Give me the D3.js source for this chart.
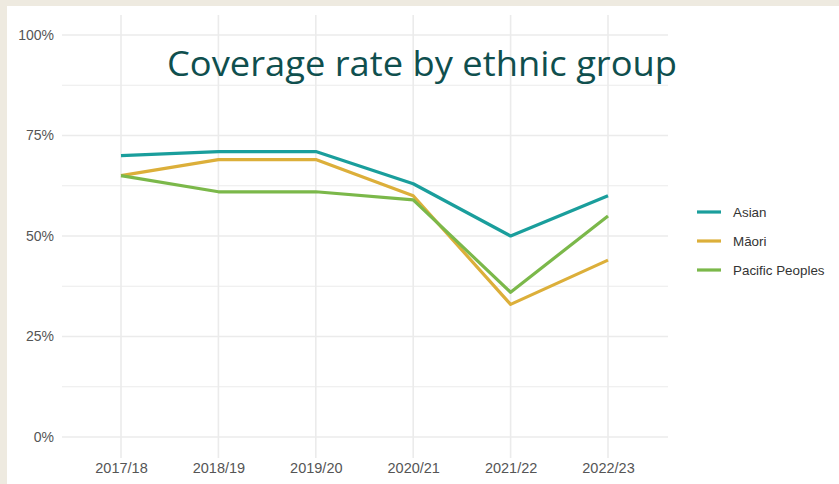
<!DOCTYPE html>
<html>
<head>
<meta charset="utf-8">
<script src="https://cdn.jsdelivr.net/npm/d3@7"></script>
<style>
  html, body { margin: 0; padding: 0; background: #eeeae0; }
  svg { display: block; }
</style>
</head>
<body>
<svg id="chart" width="839" height="484"></svg>
<script>
// Coverage rate by ethnic group, 2017/18 to 2022/23
const years = ["2017/18", "2018/19", "2019/20", "2020/21", "2021/22", "2022/23"];
const groups = ["Asian", "Māori", "Pacific Peoples"];
const asian = [70, 71, 71, 63, 50, 60];
const maori = [65, 69, 69, 60, 33, 44];
const pacific = [65, 61, 61, 59, 36, 55];
const yTicks = [0, 25, 50, 75, 100];
const colors = ["#1a9e9c", "#dcaf3a", "#7bb84a"];

const seriesValues = [asian, maori, pacific];

const svg = d3.select("#chart");

// white panel
svg.append("rect")
  .attr("x", 7).attr("y", 6).attr("width", 832).attr("height", 478)
  .attr("fill", "#ffffff");

const x = d3.scalePoint().domain(years).range([121, 608]);
const y = d3.scaleLinear().domain([0, 100]).range([437, 35]);

const gridColor = "#ebebeb";
const g = svg.append("g");

// minor horizontal grid
const minor = [12.5, 37.5, 62.5, 87.5];
g.selectAll(".minor").data(minor).join("line")
  .attr("x1", 62).attr("x2", 668)
  .attr("y1", d => y(d)).attr("y2", d => y(d))
  .attr("stroke", gridColor).attr("stroke-width", 1);

// major horizontal grid
g.selectAll(".major").data(yTicks).join("line")
  .attr("x1", 62).attr("x2", 668)
  .attr("y1", d => y(d)).attr("y2", d => y(d))
  .attr("stroke", gridColor).attr("stroke-width", 1.6);

// vertical grid
g.selectAll(".vgrid").data(years).join("line")
  .attr("x1", d => x(d)).attr("x2", d => x(d))
  .attr("y1", 15).attr("y2", 458)
  .attr("stroke", gridColor).attr("stroke-width", 1.6);

const axisFont = "Liberation Sans, Arial, sans-serif";

// y axis labels
const yAxis = d3.axisLeft(y).tickValues(yTicks).tickFormat(d => d + "%").tickSize(0).tickPadding(0);
const ya = svg.append("g").attr("transform", "translate(54,0)").call(yAxis);
ya.select(".domain").remove();
ya.selectAll("text")
  .attr("font-family", axisFont)
  .attr("font-size", 14)
  .attr("fill", "#555555");

// x axis labels
const xAxis = d3.axisBottom(x).tickSize(0).tickPadding(0);
const xa = svg.append("g").attr("transform", "translate(0,463)").call(xAxis);
xa.select(".domain").remove();
xa.selectAll("text")
  .attr("font-family", axisFont)
  .attr("font-size", 14.5)
  .attr("fill", "#555555");

// lines
const line = d3.line().x((d, i) => x(years[i])).y(d => y(d));
svg.selectAll(".series").data(seriesValues).join("path")
  .attr("d", d => line(d))
  .attr("fill", "none")
  .attr("stroke", (d, i) => colors[i])
  .attr("stroke-width", 3.2)
  .attr("stroke-linejoin", "round");

// legend
const legend = svg.append("g").attr("transform", "translate(697,212)");
const items = legend.selectAll("g").data(groups).join("g")
  .attr("transform", (d, i) => `translate(0,${i * 29})`);
items.append("line")
  .attr("x1", 0).attr("x2", 24).attr("y1", 0).attr("y2", 0)
  .attr("stroke", (d, i) => colors[i]).attr("stroke-width", 3.2);
items.append("text")
  .attr("x", 36).attr("y", 0).attr("dy", "0.35em")
  .attr("font-family", axisFont)
  .attr("font-size", 13.4)
  .attr("fill", "#333333")
  .text(d => d);

// title
svg.append("text")
  .attr("x", 167).attr("y", 76)
  .attr("font-family", "Open Sans, sans-serif")
  .attr("font-weight", 400)
  .attr("font-size", 35)
  .attr("fill", "#0f4f4e")
  .attr("textLength", 510)
  .attr("lengthAdjust", "spacingAndGlyphs")
  .text("Coverage rate by ethnic group");
</script>
</body>
</html>
